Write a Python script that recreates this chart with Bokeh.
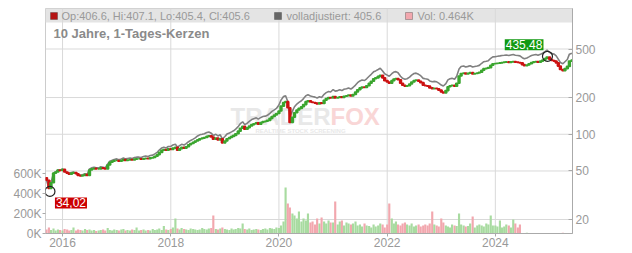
import pandas as pd
from bokeh.plotting import figure
from bokeh.models import (Range1d, LinearAxis, LinearScale, FixedTicker, CustomJSTickFormatter,
                          BoxAnnotation, Label, ColumnDataSource, Span)
from bokeh.embed import file_html
from bokeh.resources import INLINE

# ---------------- data (semi-monthly, 1st and 15th) ----------------
c2015 = [42, 36, 40, 48, 49, 51, 50.5]
c2016 = [51.5, 49, 48, 47, 48, 48.5, 47.5, 46, 45.5, 46, 47, 46,
         51, 52, 52.5, 52, 52, 53, 52.5, 52, 56, 59, 60, 61]
c2017 = [61, 60, 61, 62, 61, 61.5, 62, 61.5, 62.5, 63, 63, 62.5,
         63, 63.5, 63, 64, 64.5, 66, 68, 71, 74, 75, 74, 76]
c2018 = [75, 77, 78, 74, 76, 78, 77, 79, 82, 84, 86, 88,
         90, 92, 93, 94, 96, 97, 95, 91, 93, 90, 92, 85]
c2019 = [88, 92, 94, 96, 98, 101, 106, 112, 116, 110, 113, 117,
         120, 122, 124, 121, 125, 127, 128, 130, 135, 140, 144, 148]
c2020 = [155, 170, 182, 185, 165, 125, 138, 150, 158, 163, 168, 175,
         185, 188, 184, 182, 180, 177, 181, 179, 190, 196, 200, 198]
c2021 = [204, 198, 200, 203, 200, 205, 207, 210, 206, 212, 222, 232,
         240, 244, 242, 250, 262, 272, 285, 290, 298, 305, 290, 275]
c2022 = [268, 262, 275, 284, 286, 280, 262, 252, 248, 250, 258, 268,
         276, 278, 272, 265, 252, 250, 248, 240, 236, 238, 236, 230]
c2023 = [222, 218, 228, 245, 250, 252, 248, 262, 300, 315, 318, 312,
         316, 320, 312, 315, 318, 322, 335, 345, 348, 352, 368, 378]
c2024 = [380, 382, 385, 388, 390, 392, 388, 392, 395, 390, 388, 385,
         372, 365, 370, 378, 388, 392, 395, 390, 398, 405, 418, 430]
c2025 = [412, 402, 398, 385, 362, 340, 332, 345, 360, 398, 405.6]

a2015 = [42, 36, 40, 48, 49, 51, 50.5]
a2016 = [52.0, 49.5, 48.5, 47.5, 48.5, 49.0, 48.0, 46.5, 46.0, 46.5, 47.5, 46.5,
         52.0, 53.0, 53.6, 53.0, 53.0, 54.1, 53.6, 53.0, 57.1, 60.2, 61.2, 62.2]
a2017 = [62.8, 61.8, 62.8, 63.9, 62.8, 63.3, 63.9, 63.3, 64.4, 64.9, 64.9, 64.4,
         65.8, 66.4, 65.8, 66.9, 67.4, 69.0, 71.1, 74.2, 77.3, 78.4, 77.3, 79.4]
a2018 = [79.5, 81.6, 82.7, 78.4, 80.6, 82.7, 81.6, 83.7, 86.9, 89.0, 91.2, 93.3,
         96.8, 98.9, 100.0, 101.1, 103.2, 104.3, 102.1, 97.8, 100.0, 96.8, 98.9, 91.4]
a2019 = [95.9, 100.3, 102.5, 104.6, 106.8, 110.1, 115.5, 122.1, 126.4, 119.9, 123.2, 127.5,
         132.0, 134.2, 136.4, 133.1, 137.5, 139.7, 140.8, 143.0, 148.5, 154.0, 158.4, 162.8]
a2020 = [173.6, 190.4, 203.8, 207.2, 184.8, 140.0, 154.6, 168.0, 177.0, 182.6, 188.2, 196.0,
         207.2, 210.6, 206.1, 203.8, 201.6, 198.2, 202.7, 200.5, 212.8, 219.5, 224.0, 221.8]
a2021 = [232.6, 225.7, 228.0, 231.4, 228.0, 233.7, 236.0, 239.4, 234.8, 241.7, 253.1, 264.5,
         273.6, 278.2, 275.9, 285.0, 298.7, 310.1, 324.9, 330.6, 339.7, 347.7, 330.6, 313.5]
a2022 = [305.5, 298.7, 313.5, 323.8, 326.0, 319.2, 298.7, 287.3, 282.7, 285.0, 294.1, 305.5,
         314.6, 316.9, 310.1, 302.1, 287.3, 285.0, 282.7, 273.6, 269.0, 271.3, 269.0, 262.2]
a2023 = [253.1, 248.5, 259.9, 279.3, 285.0, 287.3, 282.7, 298.7, 342.0, 359.1, 362.5, 355.7,
         360.2, 364.8, 355.7, 359.1, 362.5, 367.1, 381.9, 393.3, 396.7, 401.3, 419.5, 430.9]
a2024 = [433.2, 435.5, 438.9, 442.3, 444.6, 446.9, 442.3, 446.9, 450.3, 444.6, 442.3, 438.9,
         424.1, 416.1, 421.8, 430.9, 442.3, 446.9, 450.3, 444.6, 453.7, 461.7, 476.5, 490.2]
a2025 = [469.7, 458.3, 453.7, 438.9, 412.7, 387.6, 378.5, 393.3, 410.4, 453.7, 462.4]

v2015 = [40, 60, 35, 50, 30, 40, 35]
v2016 = [30, 45, 40, 30, 35, 60, 30, 40, 35, 30, 45, 35, 40, 30, 35, 25, 30, 35, 40, 30, 55, 35, 30, 40]
v2017 = [35, 30, 40, 45, 30, 35, 30, 40, 35, 60, 30, 35, 40, 30, 35, 30, 45, 35, 40, 50, 35, 75, 40, 35]
v2018 = [45, 60, 150, 50, 40, 55, 45, 40, 35, 50, 45, 40, 35, 40, 55, 45, 40, 50, 55, 180, 45, 40, 50, 60]
v2019 = [45, 40, 35, 50, 40, 45, 55, 50, 100, 45, 40, 50, 35, 40, 45, 40, 35, 45, 50, 40, 55, 50, 45, 60]
v2020 = [55, 80, 120, 460, 300, 260, 200, 180, 150, 220, 120, 150, 130, 200, 110, 120, 90, 150, 100, 160, 120, 100, 130, 110]
v2021 = [110, 320, 90, 120, 130, 80, 110, 100, 90, 100, 120, 80, 90, 70, 100, 80, 75, 60, 90, 70, 80, 100, 90, 60]
v2022 = [90, 300, 150, 100, 120, 90, 80, 100, 110, 90, 80, 100, 70, 80, 90, 70, 80, 90, 80, 100, 220, 90, 80, 70]
v2023 = [150, 110, 80, 70, 60, 90, 80, 75, 200, 90, 80, 70, 75, 100, 170, 60, 80, 90, 80, 70, 100, 90, 180, 80]
v2024 = [80, 70, 130, 60, 70, 90, 80, 60, 140, 100, 60, 90, 0, 0, 8, 0, 0, 0, 0, 0, 6, 0, 0, 0]
v2025 = [0, 0, 6, 0, 0, 5, 8, 6, 0, 0, 0]

first_open = 44.0
ext_dates = ["2015-10-08", "2024-12-18"]
ext_values = [34.02, 435.48]
ext_labels = ["34,02", "435,48"]
year_ticks = [2016, 2018, 2020, 2022, 2024]
price_ticks = [20, 50, 100, 200, 500]
vol_ticks = [0, 200000, 400000, 600000]
legend_texts = ["Op:406.6, Hi:407.1, Lo:405.4, Cl:405.6", "volladjustiert: 405.6", "Vol: 0.464K"]
subtitle = "10 Jahre, 1-Tages-Kerzen"

# ---------------- assemble ----------------
close = c2015 + c2016 + c2017 + c2018 + c2019 + c2020 + c2021 + c2022 + c2023 + c2024 + c2025
adj = a2015 + a2016 + a2017 + a2018 + a2019 + a2020 + a2021 + a2022 + a2023 + a2024 + a2025
volk = v2015 + v2016 + v2017 + v2018 + v2019 + v2020 + v2021 + v2022 + v2023 + v2024 + v2025
n = min(len(close), len(adj), len(volk))
close, adj, volk = close[:n], adj[:n], volk[:n]
dates = pd.date_range("2015-09-15", periods=n, freq="SMS")
opens = [first_open] + close[:-1]
up = [c >= o for o, c in zip(opens, close)]
GREEN, RED = "#3aa52e", "#cc1111"
VGREEN, VRED = "#a8dba0", "#f2a7ae"

src = ColumnDataSource(dict(
    date=dates,
    top=[max(o, c) for o, c in zip(opens, close)],
    bottom=[min(o, c) for o, c in zip(opens, close)],
    color=[GREEN if u else RED for u in up],
    vcolor=[VGREEN if u else VRED for u in up],
    vol=[v * 1000 for v in volk],
    adj=adj,
))

DAY = 86400000
FONT = "Liberation Sans"
GRID = "#d9d9d9"

p = figure(width=632, height=253, x_axis_type="datetime", y_axis_type="log",
           y_axis_location="right",
           x_range=Range1d(pd.Timestamp("2015-09-08"), pd.Timestamp("2025-06-05")),
           y_range=Range1d(15.36, 1074),
           toolbar_location=None, output_backend="svg",
           min_border_left=45, min_border_right=60, min_border_top=8, min_border_bottom=20,
           outline_line_color="#cccccc", background_fill_color="white",
           border_fill_color="white")
p.extra_y_ranges = {"vol": Range1d(0, 2250000)}
p.extra_y_scales = {"vol": LinearScale()}
p.grid.visible = False

# right (price) axis
ya = p.yaxis[0]
ya.ticker = FixedTicker(ticks=price_ticks)
ya.formatter = CustomJSTickFormatter(code="return tick.toFixed(0)")
ya.major_tick_in = 4
ya.major_tick_out = 0
ya.minor_tick_line_color = None
ya.axis_line_color = "#aaaaaa"
ya.major_tick_line_color = "#aaaaaa"
ya.major_label_text_color = "#999999"
ya.major_label_text_font = FONT
ya.major_label_text_font_size = "12px"
ya.major_label_standoff = 3

# x axis
xt = [pd.Timestamp(f"{y}-01-01").value // 10**6 for y in year_ticks]
xa = p.xaxis[0]
xa.ticker = FixedTicker(ticks=xt)
xa.formatter = CustomJSTickFormatter(code="return new Date(tick).getUTCFullYear().toString()")
xa.major_tick_out = 3
xa.major_tick_in = 0
xa.minor_tick_line_color = None
xa.axis_line_color = "#aaaaaa"
xa.major_tick_line_color = "#aaaaaa"
xa.major_label_text_color = "#999999"
xa.major_label_text_font = FONT
xa.major_label_text_font_size = "12px"
xa.major_label_standoff = 1

# left (volume) axis
va = LinearAxis(y_range_name="vol", ticker=FixedTicker(ticks=vol_ticks),
                formatter=CustomJSTickFormatter(code="return (tick/1000).toFixed(0) + 'K'"))
va.major_tick_out = 3
va.major_tick_in = 0
va.minor_tick_line_color = None
va.axis_line_color = None
va.major_tick_line_color = "#aaaaaa"
va.major_label_text_color = "#999999"
va.major_label_text_font = FONT
va.major_label_text_font_size = "12px"
va.major_label_standoff = 1
p.add_layout(va, "left")

# legend bar background
p.add_layout(BoxAnnotation(bottom=211, bottom_units="screen", fill_color="#e4e4e4",
                           fill_alpha=1, line_color=None, level="underlay"))

# grid lines (drawn as spans)
for t in xt:
    p.add_layout(Span(location=t, dimension="height", line_color=GRID, line_width=1,
                      level="underlay"))
for v in price_ticks:
    p.add_layout(Span(location=v, dimension="width", line_color=GRID, line_width=1,
                      level="underlay"))

# watermark
p.add_layout(Label(x=285, y=117, x_units="screen", y_units="screen", text="TRADER",
                   text_align="right", text_baseline="middle", text_font=FONT,
                   text_font_style="bold", text_font_size="24px", text_color="#e8e8e8",
                   level="underlay"))
p.add_layout(Label(x=285, y=117, x_units="screen", y_units="screen", text="FOX",
                   text_align="left", text_baseline="middle", text_font=FONT,
                   text_font_style="bold", text_font_size="24px", text_color="#f9d6d6",
                   level="underlay"))
p.add_layout(Label(x=210, y=103, x_units="screen", y_units="screen",
                   text="REALTIME STOCK SCREENING", text_align="left", text_baseline="middle",
                   text_font=FONT, text_font_style="bold", text_font_size="6px",
                   text_color="#e8e8e8", level="underlay"))

# volume
p.vbar(x="date", width=14.5 * DAY, top="vol", bottom=0, fill_color="vcolor",
       line_color=None, y_range_name="vol", source=src)
# adjusted line
p.line(x="date", y="adj", line_color="#808080", line_width=1.6, source=src)
# candles
p.vbar(x="date", width=12 * DAY, top="top", bottom="bottom", fill_color="color",
       line_color="color", line_width=1.6, source=src)

# extremes
p.scatter(x=pd.to_datetime(ext_dates), y=ext_values, marker="circle", size=10,
          fill_color=None, line_color="#222222", line_width=1.2)
p.add_layout(Label(x=pd.Timestamp(ext_dates[1]), y=ext_values[1], text=ext_labels[1],
                   text_align="right", text_baseline="bottom", x_offset=-4, y_offset=6,
                   text_color="white", text_font=FONT, text_font_size="12px",
                   background_fill_color="#119911", padding=1))
p.add_layout(Label(x=pd.Timestamp(ext_dates[0]), y=ext_values[0], text=ext_labels[0],
                   text_align="left", text_baseline="top", x_offset=5, y_offset=-6,
                   text_color="white", text_font=FONT, text_font_size="12px",
                   background_fill_color="#cc0000", padding=1))

# legend row
sq = [(5, 12, "#b51414"), (229, 236, "#666666"), (360, 367, "#f2a7ae")]
for l, r, col in sq:
    p.add_layout(BoxAnnotation(left=l, right=r, bottom=214, top=221,
                               left_units="screen", right_units="screen",
                               bottom_units="screen", top_units="screen",
                               fill_color=col, fill_alpha=1, line_color="#222222",
                               line_width=1))
for x0, t in zip([16, 241, 372], legend_texts):
    p.add_layout(Label(x=x0, y=218, x_units="screen", y_units="screen", text=t,
                       text_align="left", text_baseline="middle", text_font=FONT,
                       text_font_size="11px", text_color="#999999"))
p.add_layout(Label(x=8, y=200, x_units="screen", y_units="screen", text=subtitle,
                   text_align="left", text_baseline="middle", text_font=FONT,
                   text_font_style="bold", text_font_size="13px", text_color="#8a8a8a"))

open("out.html", "w").write(file_html(p, INLINE))
